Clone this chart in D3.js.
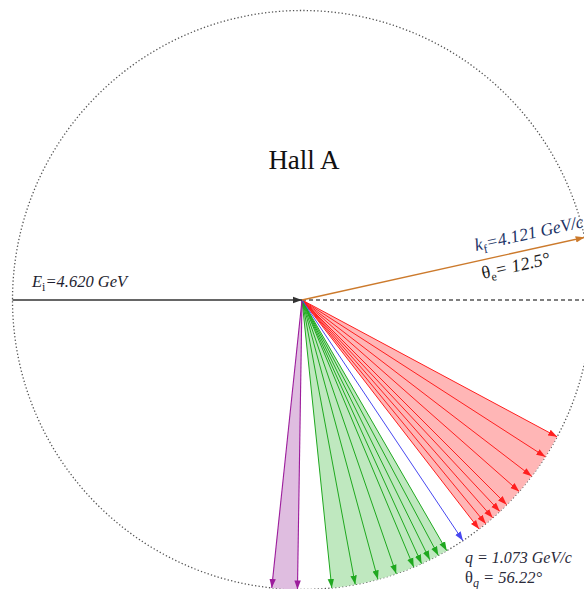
<!DOCTYPE html>
<html><head><meta charset="utf-8">
<script src="https://cdn.jsdelivr.net/npm/d3@7"></script>
<style>
html,body{margin:0;padding:0;background:#fff;}
svg{display:block;}
text{font-family:"Liberation Serif","DejaVu Serif",serif;}
</style></head>
<body>
<svg id="chart" width="584" height="589"></svg>
<script>
// ---- data (degrees measured clockwise from the beam direction, i.e. below horizontal) ----
const redAngles    = [28.2, 32.8, 37.5, 41.4, 45.0, 46.9, 48.8, 50.6, 52.3];
const blueAngles   = [56.22];
const greenAngles  = [60.0, 61.9, 63.8, 65.6, 67.3, 71.0, 74.8, 79.4, 84.1];
const purpleAngles = [90.9, 96.0];
const electronAngles = [-12.5];
const labels = {hall: "Hall A", Ei: "4.620", kf: "4.121", thetaE: "12.5", q: "1.073", thetaQ: "56.22"};

const W = 584, H = 589;
const cx = 302, cy = 300, R = 289.5;
const svg = d3.select("#chart");

const deg = d3.scaleLinear().domain([0, 360]).range([0, 2 * Math.PI]);
const rad = d3.scaleLinear().domain([0, 1]).range([0, R]);
const pt = a => d3.pointRadial(deg(90 + a), rad(1));

const colors = {
  red:    {line: "#ff1f1f", fill: "#ffb6b6"},
  blue:   {line: "#4848f0", fill: "none"},
  green:  {line: "#1fa81f", fill: "#bfe8bf"},
  purple: {line: "#9c1c9c", fill: "#dfbde0"},
  orange: {line: "#cc7a2c"},
  black:  {line: "#333333"}
};

const defs = svg.append("defs");
Object.entries(colors).forEach(([k, c]) => {
  defs.append("marker")
    .attr("id", "ah-" + k)
    .attr("viewBox", "0 -4 9 8")
    .attr("refX", 9).attr("refY", 0)
    .attr("markerUnits", "userSpaceOnUse")
    .attr("markerWidth", 9).attr("markerHeight", 8)
    .attr("orient", "auto")
    .append("path").attr("d", "M0,-3.2L9,0L0,3.2Z").attr("fill", c.line);
});

const g = svg.append("g").attr("transform", `translate(${cx},${cy})`);

// dotted circle
g.append("circle").attr("r", rad(1))
  .attr("fill", "none").attr("stroke", "#555").attr("stroke-width", 1.3)
  .attr("stroke-dasharray", "1.3,2.2");

// fans
const arc = d3.arc().innerRadius(0).outerRadius(rad(1));
const fans = [
  {angles: redAngles, c: "red"},
  {angles: greenAngles, c: "green"},
  {angles: purpleAngles, c: "purple"}
];
fans.forEach(f => {
  const ext = d3.extent(f.angles);
  g.append("path")
    .attr("d", arc({startAngle: deg(90 + ext[0]), endAngle: deg(90 + ext[1])}))
    .attr("fill", colors[f.c].fill);
});

// dashed beam-line continuation
g.append("line").attr("x1", 0).attr("y1", 0).attr("x2", W - cx).attr("y2", 0)
  .attr("stroke", "#555").attr("stroke-width", 1.3).attr("stroke-dasharray", "4,3");

function arrows(angles, c, w) {
  g.selectAll(null).data(angles).enter().append("line")
    .attr("x1", 0).attr("y1", 0)
    .attr("x2", d => pt(d)[0]).attr("y2", d => pt(d)[1])
    .attr("stroke", colors[c].line).attr("stroke-width", w)
    .attr("marker-end", `url(#ah-${c})`);
}
arrows(redAngles, "red", 1);
arrows(greenAngles, "green", 1);
arrows(purpleAngles, "purple", 1.1);
arrows(blueAngles, "blue", 1);
arrows(electronAngles, "orange", 1.4);

// incoming beam
g.append("line").attr("x1", -rad(1)).attr("y1", 0).attr("x2", 0).attr("y2", 0)
  .attr("stroke", colors.black.line).attr("stroke-width", 1.5)
  .attr("marker-end", "url(#ah-black)");

// ---- text ----
svg.append("text").attr("x", 304).attr("y", 169).attr("text-anchor", "middle")
  .attr("font-size", 27).attr("fill", "#111").text(labels.hall);

const ei = svg.append("text").attr("x", 32).attr("y", 287).attr("font-size", 16.5)
  .attr("font-style", "italic").attr("fill", "#1e1e30");
ei.append("tspan").text("E");
ei.append("tspan").attr("font-size", 12).attr("font-style", "normal").attr("dy", 4).text("i");
ei.append("tspan").attr("dy", -4).text("=" + labels.Ei + " GeV");

const kf = svg.append("text").attr("transform", "translate(476,251) rotate(-12.5)")
  .attr("font-size", 17.5).attr("font-style", "italic").attr("fill", "#223366");
kf.append("tspan").text("k");
kf.append("tspan").attr("font-size", 12).attr("font-style", "normal").attr("dy", 4).text("f");
kf.append("tspan").attr("dy", -4).text("=" + labels.kf + " GeV/c");

const te = svg.append("text").attr("transform", "translate(483,279) rotate(-12.5)")
  .attr("font-size", 18).attr("fill", "#1a1a1a");
te.append("tspan").text("θ");
te.append("tspan").attr("font-size", 12).attr("dy", 4).text("e");
te.append("tspan").attr("dy", -4).attr("font-style", "italic").text("= " + labels.thetaE + "°");

const ql = svg.append("text").attr("x", 465).attr("y", 563).attr("font-size", 16)
  .attr("font-style", "italic").attr("fill", "#2a2a3a");
ql.text("q = " + labels.q + " GeV/c");

const tq = svg.append("text").attr("x", 465).attr("y", 583).attr("font-size", 16.5)
  .attr("fill", "#2a2a3a");
tq.append("tspan").text("θ");
tq.append("tspan").attr("font-size", 12).attr("font-style", "italic").attr("dy", 4).text("q");
tq.append("tspan").attr("dy", -4).attr("font-style", "italic").text(" = " + labels.thetaQ + "°");
</script>
</body></html>
